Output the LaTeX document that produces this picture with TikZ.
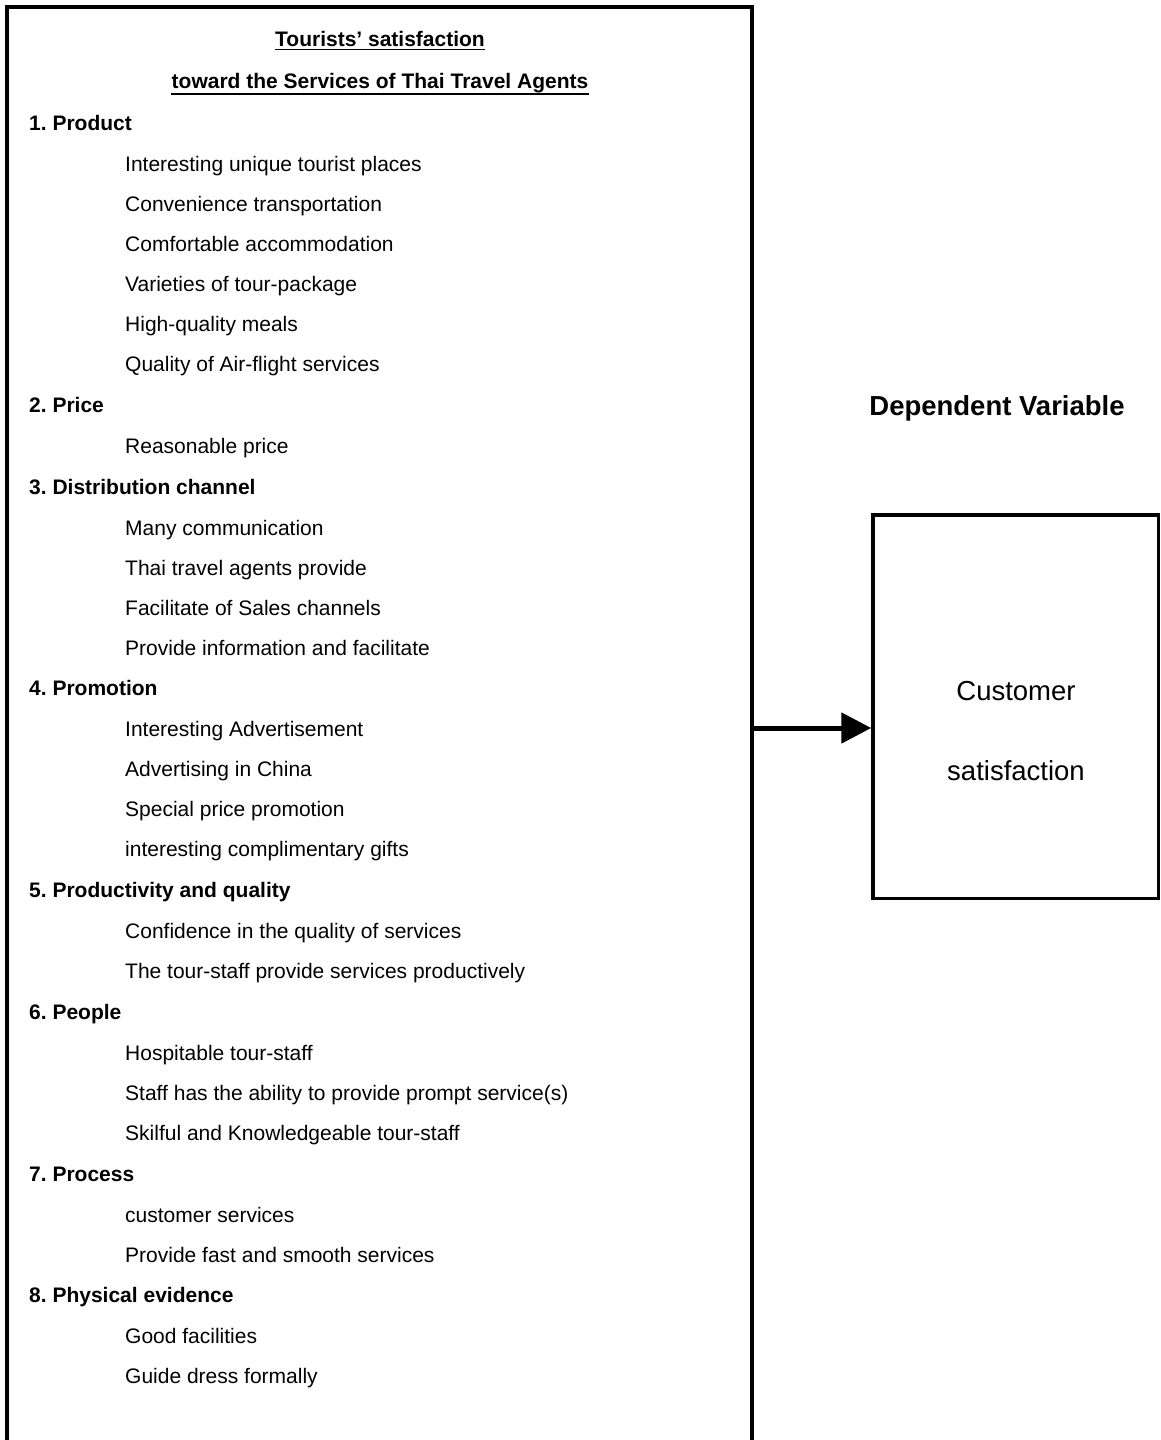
\documentclass[tikz,border=0pt]{standalone}
\usepackage{fontspec}
\setmainfont{Liberation Sans}
\usepackage{tikz}
\usetikzlibrary{arrows.meta,positioning}
\frenchspacing

\begin{document}
\begin{tikzpicture}[x=1pt,y=-1pt,
		txt/.style={anchor=base west,inner sep=0pt,font=\fontsize{21pt}{25pt}\selectfont},
		head/.style={txt,font=\fontsize{21pt}{25pt}\selectfont\bfseries},
		big/.style={anchor=base,inner sep=0pt,font=\fontsize{27.5pt}{32pt}\selectfont},
		frame/.style={line width=3.5pt},
		arrow/.style={line width=5pt,-{Triangle[length=30pt,width=30pt]}}]
			\useasboundingbox (0,0) rectangle (1161,1440);
			\draw[frame] (7,1450) -- (7,7) -- (752,7) -- (752,1450);
			\node[head,anchor=base] (title1) at (380,46) {Tourists’ satisfaction};
			\node[head,anchor=base] (title2) at (380,88) {toward the Services of Thai Travel Agents};
			\draw[line width=1.6pt] ([yshift=-3.5pt]title1.base west) -- ([yshift=-3.5pt]title1.base east);
			\draw[line width=1.6pt] ([yshift=-6pt]title2.base west) -- ([yshift=-6pt]title2.base east);
			\node[head] (prod) at (29,130) {1. Product};
			\node[txt] (prod1) at (125,171) {Interesting unique tourist places};
			\node[txt] (prod2) at (125,211) {Convenience transportation};
			\node[txt] (prod3) at (125,251) {Comfortable accommodation};
			\node[txt] (prod4) at (125,291) {Varieties of tour-package};
			\node[txt] (prod5) at (125,331) {High-quality meals};
			\node[txt] (prod6) at (125,371) {Quality of Air-flight services};
			\node[head] (price) at (29,412) {2. Price};
			\node[txt] (price1) at (125,453) {Reasonable price};
			\node[head] (dist) at (29,494) {3. Distribution channel};
			\node[txt] (dist1) at (125,535) {Many communication};
			\node[txt] (dist2) at (125,575) {Thai travel agents provide};
			\node[txt] (dist3) at (125,615) {Facilitate of Sales channels};
			\node[txt] (dist4) at (125,655) {Provide information and facilitate};
			\node[head] (promo) at (29,695) {4. Promotion};
			\node[txt] (promo1) at (125,736) {Interesting Advertisement};
			\node[txt] (promo2) at (125,776) {Advertising in China};
			\node[txt] (promo3) at (125,816) {Special price promotion};
			\node[txt] (promo4) at (125,856) {interesting complimentary gifts};
			\node[head] (qual) at (29,897) {5. Productivity and quality};
			\node[txt] (qual1) at (125,938) {Confidence in the quality of services};
			\node[txt] (qual2) at (125,978) {The tour-staff provide services productively};
			\node[head] (people) at (29,1019) {6. People};
			\node[txt] (people1) at (125,1060) {Hospitable tour-staff};
			\node[txt] (people2) at (125,1100) {Staff has the ability to provide prompt service(s)};
			\node[txt] (people3) at (125,1140) {Skilful and Knowledgeable tour-staff};
			\node[head] (proc) at (29,1181) {7. Process};
			\node[txt] (proc1) at (125,1222) {customer services};
			\node[txt] (proc2) at (125,1262) {Provide fast and smooth services};
			\node[head] (phys) at (29,1302) {8. Physical evidence};
			\node[txt] (phys1) at (125,1343) {Good facilities};
			\node[txt] (phys2) at (125,1383) {Guide dress formally};
			\node[big,font=\fontsize{27.5pt}{32pt}\selectfont\bfseries] (dvlabel) at (997,415) {Dependent Variable};
			\node[draw,frame,minimum width=285.5pt,minimum height=383.5pt,inner sep=0pt] (dv) at (1015.75,706.75) {};
			\node[big] (cs1) at (1016,700) {Customer};
			\node[big] (cs2) at (1016,780) {satisfaction};
			\coordinate (lb) at (752,728);
			\draw[arrow] (lb) -- (lb -| dv.west);
		\end{tikzpicture}
\end{document}
